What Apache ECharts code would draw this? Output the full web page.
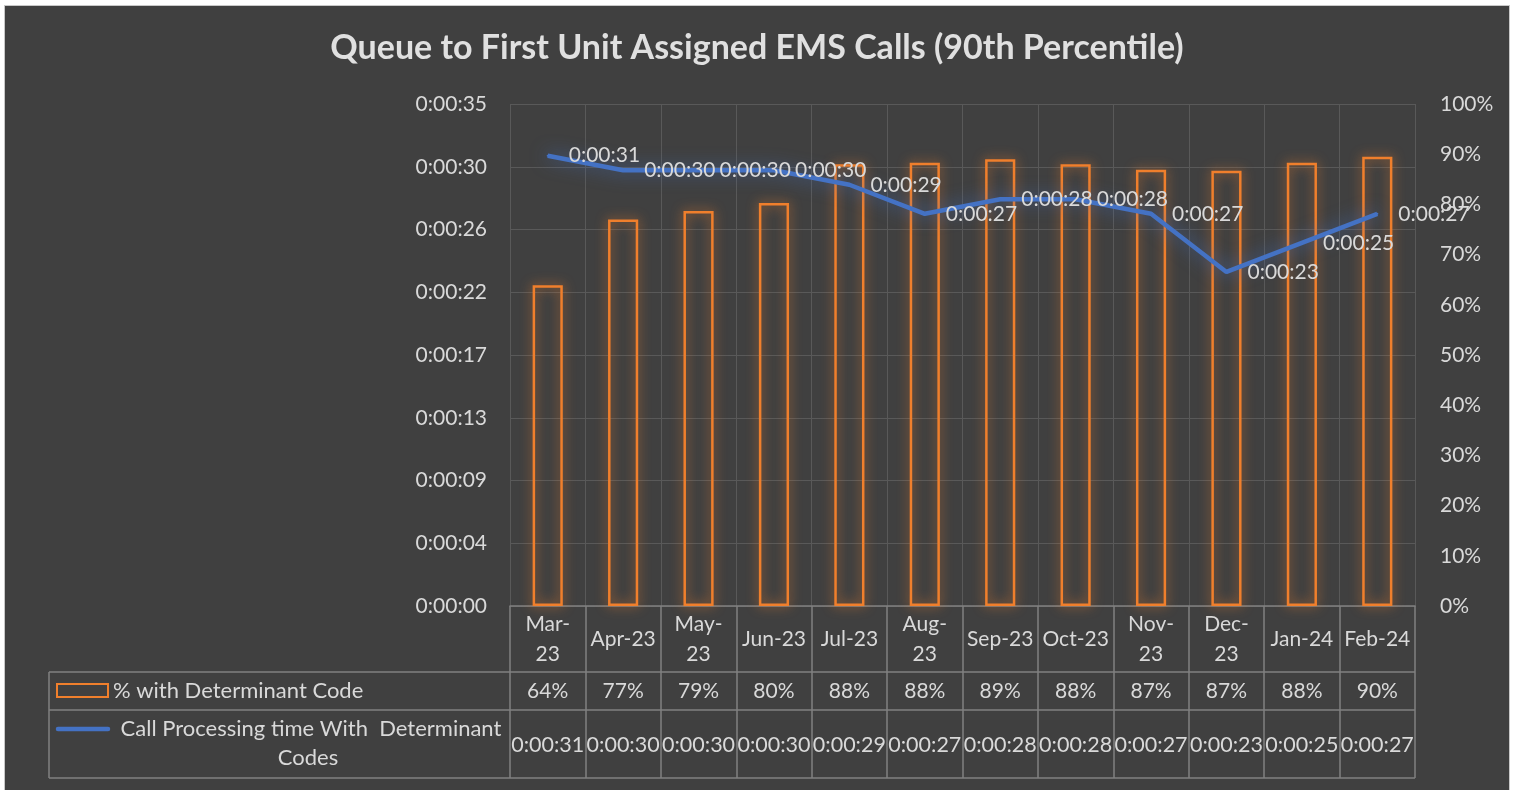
<!DOCTYPE html>
<html>
<head>
<meta charset="utf-8">
<script src="https://cdn.jsdelivr.net/npm/echarts@6/dist/echarts.min.js"></script>
<style>
  html, body { margin: 0; padding: 0; background: #ffffff; overflow: hidden; }
  #frame { position: absolute; left: 4px; top: 5px; right: 5px; bottom: -10px; border: 1px solid #c8c8c8; background: #404040; }
  #chart { width: 100%; height: 100%; }
</style>
</head>
<body>
<div id="frame"><div id="chart"></div></div>
<script>
'use strict';
/* Queue to First Unit Assigned EMS Calls (90th percentile) */

var months = ['Mar-23', 'Apr-23', 'May-23', 'Jun-23', 'Jul-23', 'Aug-23', 'Sep-23', 'Oct-23', 'Nov-23', 'Dec-23', 'Jan-24', 'Feb-24'];
// the table wraps some month names like the original
var monthTicks = ['Mar-\n23', 'Apr-23', 'May-\n23', 'Jun-23', 'Jul-23', 'Aug-\n23', 'Sep-23', 'Oct-23', 'Nov-\n23', 'Dec-\n23', 'Jan-24', 'Feb-24'];
// % with determinant code
var pctValues = [63.9, 77.0, 78.7, 80.3, 88.0, 88.3, 89.0, 88.0, 86.9, 86.7, 88.3, 89.5];
// call processing time, seconds
var timeValues = [31, 30, 30, 30, 29, 27, 28, 28, 27, 23, 25, 27];
// left axis in seconds (0.0004 day max, 0.00005 day steps)
var timeAxisMax = 34.56;
var timeAxisStep = 4.32;

var barName = '% with Determinant Code';
var lineName = 'Call Processing time With  Determinant Codes';

var FONT = 'Lato';
var TXT = '#d9d9d9';
var TABLE = '#808080';
var FS = 21;

function pad(n) { return n < 10 ? '0' + n : '' + n; }
function fmtTime(s) {
  var t = Math.round(s);
  return Math.floor(t / 3600) + ':' + pad(Math.floor(t % 3600 / 60)) + ':' + pad(t % 60);
}

var pctLabels = pctValues.map(function(v) { return Math.round(v) + '%'; });
var timeLabels = timeValues.map(fmtTime);

// grid geometry (chart coords)
var G = { left: 505, top: 98, width: 905, height: 502 };
var rowPct = G.top + G.height + 66;
var rowTime = rowPct + 38;
var rowEnd = rowTime + 68;
var keyLeft = 44;

var chart = echarts.init(document.getElementById('chart'));

var tableLine = { stroke: TABLE, lineWidth: 1.5 };

var option = {
  backgroundColor: '#404040',
  animation: false,
  title: {
    text: 'Queue to First Unit Assigned EMS Calls (90th Percentile)',
    left: 'center',
    top: 20,
    textStyle: { color: '#e0e0e0', fontFamily: FONT, fontSize: 34, fontWeight: 'bold' }
  },
  grid: { left: G.left, top: G.top, width: G.width, height: G.height },
  xAxis: [{
    type: 'category',
    data: monthTicks,
    position: 'bottom',
    axisLine: { show: true, lineStyle: { color: TABLE, width: 1.5 } },
    axisTick: { show: true, interval: 0, length: rowEnd - G.top - G.height, lineStyle: { color: TABLE, width: 1.5 } },
    splitLine: { show: true, interval: 0, lineStyle: { color: '#595959', width: 1 } },
    axisLabel: { interval: 0, margin: 33, verticalAlign: 'middle', lineHeight: 30, color: TXT, fontFamily: FONT, fontSize: FS }
  }, {
    type: 'category',
    data: pctLabels,
    position: 'bottom',
    axisLine: { show: false },
    axisTick: { show: false },
    splitLine: { show: false },
    axisLabel: { interval: 0, margin: 85, verticalAlign: 'middle', color: TXT, fontFamily: FONT, fontSize: FS }
  }, {
    type: 'category',
    data: timeLabels,
    position: 'bottom',
    axisLine: { show: false },
    axisTick: { show: false },
    splitLine: { show: false },
    axisLabel: { interval: 0, margin: 139, verticalAlign: 'middle', color: TXT, fontFamily: FONT, fontSize: 21.5 }
  }],
  yAxis: [{
    type: 'value',
    min: 0,
    max: timeAxisMax,
    interval: timeAxisStep,
    axisLine: { show: false },
    axisTick: { show: false },
    splitLine: { lineStyle: { color: '#595959', width: 1 } },
    axisLabel: { margin: 23, color: TXT, fontFamily: FONT, fontSize: FS, formatter: fmtTime }
  }, {
    type: 'value',
    min: 0,
    max: 100,
    interval: 10,
    axisLine: { show: false },
    axisTick: { show: false },
    splitLine: { show: false },
    axisLabel: { margin: 25, color: TXT, fontFamily: FONT, fontSize: FS, formatter: '{value}%' }
  }],
  series: [{
    name: barName,
    type: 'bar',
    yAxisIndex: 1,
    data: pctValues,
    barWidth: '40%',
    itemStyle: {
      color: 'rgba(0,0,0,0)',
      borderColor: '#f07f2c',
      borderWidth: 2.5,
      shadowBlur: 12,
      shadowColor: 'rgba(240,127,44,0.85)'
    }
  }, {
    name: lineName,
    type: 'line',
    yAxisIndex: 0,
    data: timeValues,
    symbol: 'circle',
    symbolSize: 2,
    itemStyle: { color: '#4472c4' },
    lineStyle: { color: '#4472c4', width: 4.5, shadowBlur: 18, shadowColor: 'rgba(68,114,196,0.8)' },
    label: {
      show: true,
      position: 'right',
      distance: 20,
      color: TXT,
      fontFamily: FONT,
      fontSize: FS,
      formatter: function(p) { return fmtTime(p.value); }
    }
  }],
  graphic: [
    // data table borders beside the month row
    { type: 'line', silent: true, shape: { x1: keyLeft, y1: rowPct, x2: G.left + G.width, y2: rowPct }, style: tableLine },
    { type: 'line', silent: true, shape: { x1: keyLeft, y1: rowTime, x2: G.left + G.width, y2: rowTime }, style: tableLine },
    { type: 'line', silent: true, shape: { x1: keyLeft, y1: rowEnd, x2: G.left + G.width, y2: rowEnd }, style: tableLine },
    { type: 'line', silent: true, shape: { x1: keyLeft, y1: rowPct, x2: keyLeft, y2: rowEnd }, style: tableLine },
    // legend keys
    { type: 'rect', silent: true, shape: { x: keyLeft + 8, y: rowPct + 12, width: 51, height: 13 },
      style: { fill: 'none', stroke: '#f07f2c', lineWidth: 2 } },
    { type: 'text', silent: true, x: keyLeft + 64, y: rowPct + 19,
      style: { text: barName, fill: TXT, font: '22px ' + FONT, verticalAlign: 'middle' } },
    { type: 'line', silent: true, shape: { x1: keyLeft + 9, y1: rowTime + 19, x2: keyLeft + 59, y2: rowTime + 19 },
      style: { stroke: '#4472c4', lineWidth: 4.5, lineCap: 'round' } },
    { type: 'text', silent: true, x: 306, y: rowTime + 19,
      style: { text: 'Call Processing time With  Determinant', fill: TXT, font: '22px ' + FONT, align: 'center', verticalAlign: 'middle' } },
    { type: 'text', silent: true, x: 303, y: rowTime + 48,
      style: { text: 'Codes', fill: TXT, font: '22px ' + FONT, align: 'center', verticalAlign: 'middle' } }
  ]
};

chart.setOption(option);
</script>
</body>
</html>
